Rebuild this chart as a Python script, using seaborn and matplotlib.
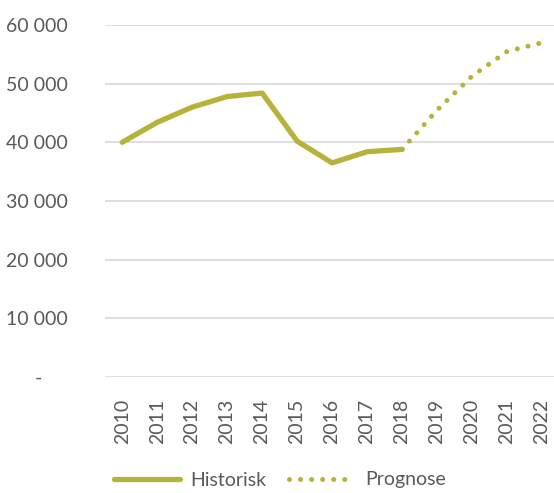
import matplotlib
matplotlib.use("Agg")
import matplotlib.pyplot as plt
import seaborn as sns
import pandas as pd

years = ["2010", "2011", "2012", "2013", "2014", "2015", "2016", "2017", "2018",
         "2019", "2020", "2021", "2022"]
historisk = [40000, 43400, 46000, 47800, 48400, 40200, 36500, 38400, 38800]
prognose_years = ["2018", "2019", "2020", "2021", "2022"]
prognose = [38800, 45500, 51300, 55500, 57000]
yticks = [0, 10000, 20000, 30000, 40000, 50000, 60000]

sns.set_theme(style="white")
plt.rcParams['font.family'] = ['Lato', 'DejaVu Sans']

color = "#B5B33A"
text_color = "#595959"

pos = {y: i for i, y in enumerate(years)}
df_h = pd.DataFrame({"x": [pos[y] for y in years[:len(historisk)]], "v": historisk})
df_p = pd.DataFrame({"x": [pos[y] for y in prognose_years], "v": prognose})

fig = plt.figure(figsize=(5.54, 4.93), dpi=100)
ax = fig.add_axes([105/554, 1-377/493, 449/554, 352/493])

for yv in yticks:
    ax.axhline(yv, color="#D9D9D9", lw=1.2, zorder=0)

sns.lineplot(data=df_h, x="x", y="v", ax=ax, color=color, lw=3.8,
             solid_capstyle="round", solid_joinstyle="round", label="Historisk")
sns.lineplot(data=df_p, x="x", y="v", ax=ax, color=color, lw=3.6,
             linestyle=(0, (0.01, 2.2)), dash_capstyle="round", label="Prognose")

ax.set_xlim(-0.49, 12.34)
ax.set_ylim(0, 60000)
ax.set_xticks(range(len(years)))
ax.set_xticklabels(years, rotation=90, fontsize=14, color=text_color)
ax.set_yticks(yticks)
ax.set_yticklabels([("{:,}".format(v).replace(",", " ") if v else "-     ") for v in yticks],
                   fontsize=14, color=text_color)
ax.tick_params(axis="x", length=0, pad=16)
ax.tick_params(axis="y", length=0, pad=27)
ax.set_xlabel("")
ax.set_ylabel("")
for s in ax.spines.values():
    s.set_visible(False)

ax.get_legend().remove()
h, l = ax.get_legend_handles_labels()
fig.legend(h, l, loc="center", bbox_to_anchor=(280/554, 1-480/493), ncol=2,
           frameon=False, fontsize=14, handlelength=3.4, columnspacing=1.2,
           handletextpad=0.5, labelcolor=text_color)

fig.savefig("out.png", dpi=100)
